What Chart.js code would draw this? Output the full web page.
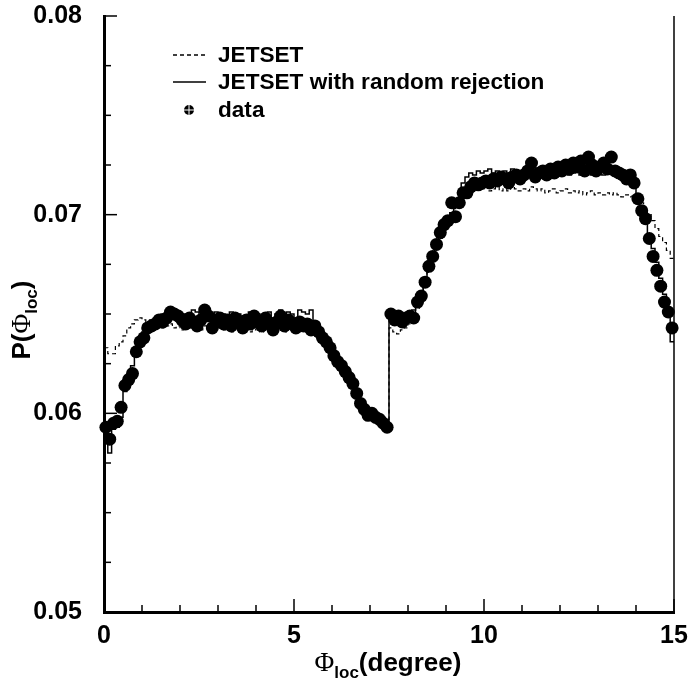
<!DOCTYPE html>
<html>
<head>
<meta charset="utf-8">
<script src="https://cdn.jsdelivr.net/npm/chart.js@4.4.0/dist/chart.umd.min.js"></script>
<style>
  html, body { margin: 0; padding: 0; background: #fff; }
  canvas { display: block; }
</style>
</head>
<body>
<canvas id="chart" width="688" height="682"></canvas>
<script>
// bins of 0.1 degree from 0 to 15
const binWidth = 0.1;

// measured points
const dataVals = [
  0.0593, 0.0587, 0.0595, 0.0596, 0.0603, 0.0614, 0.0617, 0.0620, 0.0631, 0.0636,
  0.0638, 0.0643, 0.0644, 0.0645, 0.0647, 0.0646, 0.0648, 0.0651, 0.0650, 0.0649,
  0.0647, 0.0645, 0.0648, 0.0646, 0.0644, 0.0647, 0.0652, 0.0649, 0.0643, 0.0646,
  0.0648, 0.0645, 0.0647, 0.0644, 0.0648, 0.0646, 0.0643, 0.0647, 0.0645, 0.0649,
  0.0646, 0.0644, 0.0648, 0.0645, 0.0642, 0.0646, 0.0649, 0.0644, 0.0647, 0.0645,
  0.0643, 0.0646, 0.0644, 0.0645, 0.0642, 0.0644, 0.0641, 0.0638, 0.0636, 0.0633,
  0.0629, 0.0626, 0.0624, 0.0621, 0.0618, 0.0615, 0.0610, 0.0605, 0.0602, 0.0599,
  0.0600, 0.0598, 0.0597, 0.0595, 0.0593, 0.0650, 0.0647, 0.0649, 0.0646, 0.0648,
  0.0649, 0.0648, 0.0656, 0.0659, 0.0666, 0.0674, 0.0679, 0.0685, 0.0691, 0.0695,
  0.0697, 0.0706, 0.0699, 0.0706, 0.0711, 0.0711, 0.0714, 0.0716, 0.0715, 0.0716,
  0.0717, 0.0716, 0.0718, 0.0717, 0.0719, 0.0718, 0.0716, 0.0719, 0.0720, 0.0718,
  0.0720, 0.0722, 0.0726, 0.0719, 0.0721, 0.0722, 0.0720, 0.0723, 0.0721, 0.0724,
  0.0722, 0.0725, 0.0723, 0.0726, 0.0724, 0.0727, 0.0722, 0.0729, 0.0725, 0.0722,
  0.0724, 0.0726, 0.0723, 0.0729, 0.0722, 0.0721, 0.0720, 0.0718, 0.0720, 0.0716,
  0.0708, 0.0702, 0.0698, 0.0688, 0.0679, 0.0672, 0.0664, 0.0656, 0.0651, 0.0643
];

// JETSET with random rejection (solid histogram)
const rejectVals = [
  0.0590, 0.0580, 0.0592, 0.0593, 0.0598, 0.0611, 0.0617, 0.0624, 0.0631, 0.0637,
  0.0641, 0.0645, 0.0647, 0.0648, 0.0649, 0.0650, 0.0651, 0.0649, 0.0652, 0.0650,
  0.0649, 0.0650, 0.0648, 0.0652, 0.0651, 0.0649, 0.0650, 0.0652, 0.0649, 0.0651,
  0.0648, 0.0650, 0.0649, 0.0651, 0.0648, 0.0650, 0.0649, 0.0648, 0.0651, 0.0649,
  0.0650, 0.0648, 0.0649, 0.0651, 0.0648, 0.0650, 0.0652, 0.0649, 0.0651, 0.0650,
  0.0648, 0.0652, 0.0651, 0.0650, 0.0652, 0.0646, 0.0643, 0.0640, 0.0637, 0.0634,
  0.0630, 0.0627, 0.0624, 0.0621, 0.0618, 0.0614, 0.0610, 0.0606, 0.0603, 0.0601,
  0.0600, 0.0599, 0.0597, 0.0596, 0.0594, 0.0650, 0.0648, 0.0649, 0.0648, 0.0649,
  0.0650, 0.0652, 0.0656, 0.0661, 0.0667, 0.0673, 0.0679, 0.0685, 0.0690, 0.0694,
  0.0698, 0.0701, 0.0704, 0.0708, 0.0716, 0.0719, 0.0721, 0.0720, 0.0722, 0.0721,
  0.0722, 0.0723, 0.0721, 0.0722, 0.0720, 0.0722, 0.0721, 0.0723, 0.0720, 0.0722,
  0.0721, 0.0722, 0.0720, 0.0723, 0.0721, 0.0722, 0.0720, 0.0721, 0.0722, 0.0720,
  0.0721, 0.0722, 0.0720, 0.0721, 0.0723, 0.0720, 0.0722, 0.0721, 0.0720, 0.0722,
  0.0721, 0.0720, 0.0722, 0.0721, 0.0720, 0.0721, 0.0720, 0.0719, 0.0718, 0.0715,
  0.0709, 0.0704, 0.0698, 0.0690, 0.0683, 0.0676, 0.0668, 0.0660, 0.0651, 0.0636
];

// plain JETSET (dashed histogram)
const jetsetVals = [
  0.0633, 0.0630, 0.0630, 0.0634, 0.0636, 0.0639, 0.0643, 0.0645, 0.0647, 0.0648,
  0.0647, 0.0646, 0.0645, 0.0644, 0.0645, 0.0643, 0.0644, 0.0645, 0.0643, 0.0644,
  0.0642, 0.0644, 0.0643, 0.0645, 0.0643, 0.0642, 0.0644, 0.0643, 0.0641, 0.0643,
  0.0644, 0.0642, 0.0643, 0.0641, 0.0643, 0.0644, 0.0642, 0.0643, 0.0641, 0.0642,
  0.0643, 0.0641, 0.0642, 0.0644, 0.0641, 0.0643, 0.0642, 0.0641, 0.0643, 0.0642,
  0.0641, 0.0643, 0.0642, 0.0641, 0.0642, 0.0640, 0.0638, 0.0636, 0.0634, 0.0631,
  0.0628, 0.0626, 0.0624, 0.0621, 0.0618, 0.0615, 0.0611, 0.0607, 0.0604, 0.0602,
  0.0601, 0.0600, 0.0599, 0.0598, 0.0597, 0.0643, 0.0641, 0.0640, 0.0642, 0.0643,
  0.0645, 0.0648, 0.0653, 0.0659, 0.0665, 0.0671, 0.0677, 0.0683, 0.0688, 0.0693,
  0.0697, 0.0700, 0.0703, 0.0707, 0.0711, 0.0713, 0.0714, 0.0713, 0.0714, 0.0713,
  0.0714, 0.0712, 0.0713, 0.0714, 0.0712, 0.0713, 0.0712, 0.0714, 0.0713, 0.0712,
  0.0713, 0.0712, 0.0714, 0.0713, 0.0712, 0.0713, 0.0711, 0.0712, 0.0713, 0.0711,
  0.0712, 0.0713, 0.0711, 0.0712, 0.0711, 0.0712, 0.0710, 0.0711, 0.0712, 0.0710,
  0.0711, 0.0710, 0.0711, 0.0710, 0.0711, 0.0710, 0.0709, 0.0710, 0.0709, 0.0710,
  0.0708, 0.0706, 0.0703, 0.0700, 0.0697, 0.0693, 0.0689, 0.0686, 0.0682, 0.0678
];

const xMajorTicks = [0, 5, 10, 15];
const yMajorTicks = [0.05, 0.06, 0.07, 0.08];
const legendLabels = ["JETSET", "JETSET with random rejection", "data"];

const FONT = "'Liberation Sans', Arial, sans-serif";

// histogram outline: left edge of each bin, plus closing point at the right edge
function histPoints(vals) {
  const pts = vals.map((v, i) => ({ x: i * binWidth, y: v }));
  pts.push({ x: vals.length * binWidth, y: vals[vals.length - 1] });
  return pts;
}

const dataPoints = dataVals.map((v, i) => ({ x: (i + 0.5) * binWidth, y: v }));

function isMajor(v, list) {
  return list.some((m) => Math.abs(m - v) < 1e-9);
}

// draws a run of text pieces (for the subscripts), centered on cx
function richText(ctx, parts, cx, cy) {
  let w = 0;
  parts.forEach((p) => {
    ctx.font = p.font;
    w += ctx.measureText(p.t).width;
  });
  let x = cx - w / 2;
  parts.forEach((p) => {
    ctx.font = p.font;
    ctx.fillText(p.t, x, cy + (p.dy || 0));
    x += ctx.measureText(p.t).width;
  });
}

const framePlugin = {
  id: "frame",
  afterDraw(chart) {
    const ctx = chart.ctx;
    const { left, right, top, bottom } = chart.chartArea;
    const xs = chart.scales.x;
    const ys = chart.scales.y;
    ctx.save();
    ctx.strokeStyle = "#000";
    ctx.fillStyle = "#000";

    // inward ticks
    ctx.lineWidth = 1.5;
    for (let v = 0; v <= 15; v++) {
      const px = xs.getPixelForValue(v);
      const len = isMajor(v, xMajorTicks) ? 13 : 7;
      ctx.beginPath();
      ctx.moveTo(px, bottom);
      ctx.lineTo(px, bottom - len);
      ctx.stroke();
    }
    ys.ticks.forEach((t) => {
      const py = ys.getPixelForValue(t.value);
      const len = isMajor(t.value, yMajorTicks) ? 13 : 7;
      ctx.beginPath();
      ctx.moveTo(left, py);
      ctx.lineTo(left + len, py);
      ctx.stroke();
    });

    // frame right side
    ctx.lineWidth = 1.5;
    ctx.beginPath();
    ctx.moveTo(right, top);
    ctx.lineTo(right, bottom);
    ctx.stroke();

    // axis titles
    ctx.textAlign = "left";
    ctx.textBaseline = "alphabetic";
    richText(ctx, [
      { t: "\u03A6", font: "27px 'Liberation Serif', serif" },
      { t: "loc", font: "bold 17px " + FONT, dy: 7 },
      { t: "(degree)", font: "bold 26px " + FONT }
    ], 388, 671);

    ctx.save();
    ctx.translate(30, 320);
    ctx.rotate(-Math.PI / 2);
    richText(ctx, [
      { t: "P(", font: "bold 26px " + FONT },
      { t: "\u03A6", font: "27px 'Liberation Serif', serif" },
      { t: "loc", font: "bold 17px " + FONT, dy: 7 },
      { t: ")", font: "bold 26px " + FONT }
    ], 0, 0);
    ctx.restore();

    // legend
    const lx0 = 173, lx1 = 206, tx = 218;
    const rows = [55, 82, 110];
    ctx.font = "bold 22.6px " + FONT;
    ctx.textBaseline = "middle";
    ctx.lineWidth = 1.3;
    ctx.setLineDash([4, 3]);
    ctx.beginPath();
    ctx.moveTo(lx0, rows[0]);
    ctx.lineTo(lx1, rows[0]);
    ctx.stroke();
    ctx.setLineDash([]);
    ctx.beginPath();
    ctx.moveTo(lx0, rows[1]);
    ctx.lineTo(lx1, rows[1]);
    ctx.stroke();
    ctx.beginPath();
    ctx.arc(189, rows[2], 5, 0, Math.PI * 2);
    ctx.fill();
    ctx.strokeStyle = "#fff";
    ctx.lineWidth = 1;
    ctx.beginPath();
    ctx.moveTo(189, rows[2] - 5);
    ctx.lineTo(189, rows[2] + 5);
    ctx.moveTo(184, rows[2]);
    ctx.lineTo(194, rows[2]);
    ctx.stroke();
    legendLabels.forEach((lab, i) => ctx.fillText(lab, tx, rows[i] + 1));
    ctx.restore();
  }
};

const config = {
  type: "line",
  data: {
    datasets: [
      {
        label: legendLabels[0],
        data: histPoints(jetsetVals),
        borderColor: "#000",
        borderWidth: 1.2,
        borderDash: [4, 3],
        stepped: true,
        pointRadius: 0,
        fill: false
      },
      {
        label: legendLabels[1],
        data: histPoints(rejectVals),
        borderColor: "#000",
        borderWidth: 1.5,
        stepped: true,
        pointRadius: 0,
        fill: false
      },
      {
        label: legendLabels[2],
        data: dataPoints,
        showLine: false,
        pointRadius: 6.5,
        pointBackgroundColor: "#000",
        pointBorderWidth: 0,
        clip: false
      }
    ]
  },
  options: {
    responsive: false,
    animation: false,
    layout: { padding: { top: 16, right: 14, left: 0, bottom: 0 } },
    plugins: { legend: { display: false }, tooltip: { enabled: false } },
    scales: {
      x: {
        type: "linear",
        min: 0,
        max: 15,
        grid: { display: false, drawTicks: false },
        border: { display: true, color: "#000", width: 3 },
        ticks: {
          stepSize: 1,
          padding: 9,
          color: "#000",
          maxRotation: 0,
          font: { family: FONT, size: 25, weight: "bold" },
          callback: (v) => (isMajor(v, xMajorTicks) ? String(v) : "")
        },
        afterFit: (s) => {
          s.height = 70;
          s.paddingLeft = 0;
          s.paddingRight = 0;
        }
      },
      y: {
        min: 0.05,
        max: 0.08,
        grid: { display: false, drawTicks: false },
        border: { display: true, color: "#000", width: 3 },
        ticks: {
          stepSize: 0.0025,
          padding: 22,
          color: "#000",
          font: { family: FONT, size: 25, weight: "bold" },
          callback: (v) => (isMajor(v, yMajorTicks) ? v.toFixed(2) : "")
        },
        afterFit: (s) => {
          s.width = 104;
          s.paddingTop = 0;
          s.paddingBottom = 0;
        }
      }
    }
  },
  plugins: [framePlugin]
};

new Chart(document.getElementById("chart"), config);
</script>
</body>
</html>
